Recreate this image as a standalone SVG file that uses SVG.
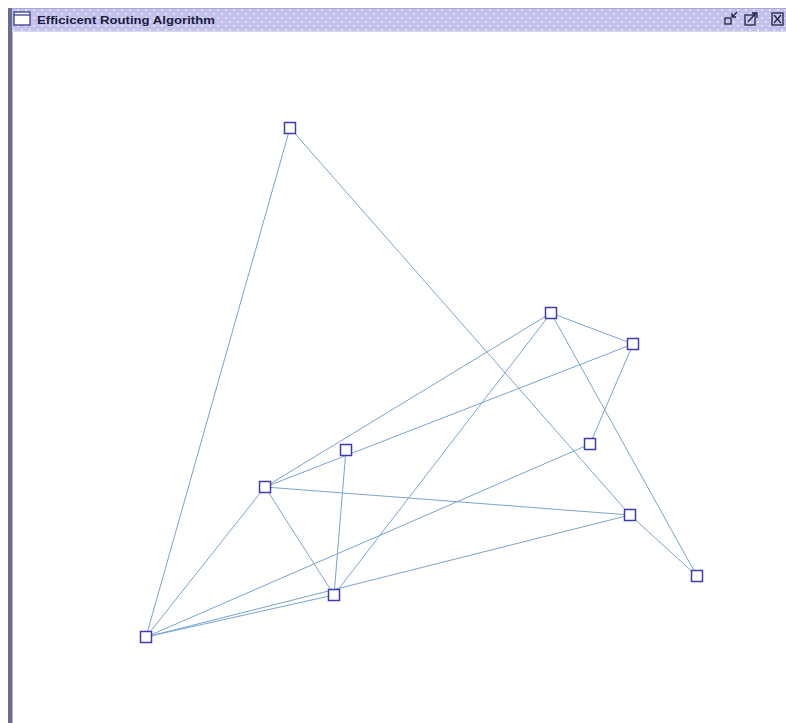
<svg xmlns="http://www.w3.org/2000/svg" width="786" height="723" viewBox="0 0 786 723">
<defs>
<pattern id="dots" width="8" height="8" patternUnits="userSpaceOnUse">
<rect width="8" height="8" fill="#c2c2ec"/>
<rect x="1" y="1" width="2" height="2" fill="#e0e0f6"/>
<rect x="5" y="5" width="2" height="2" fill="#e0e0f6"/>
<rect x="3" y="3" width="1" height="1" fill="#a8a8da"/>
</pattern>
<style>
.edge{stroke:#78a4cf;stroke-width:1;fill:none}
.node rect{fill:#ffffff;stroke:#3c3cb0;stroke-width:1.5}
.title{font-family:"Liberation Sans",Arial,sans-serif;font-size:11px;font-weight:bold;fill:#1a1a40}
.ico{fill:none;stroke:#222244;stroke-width:1.3}
</style>
</defs>
<rect width="786" height="723" fill="#ffffff"/>
<g id="frame">
<rect x="9" y="8" width="777" height="24" fill="url(#dots)"/>
<rect x="9" y="8" width="777" height="1" fill="#a8a8d8"/>
<rect x="9" y="31" width="777" height="1" fill="#d8d8f0"/>
<rect x="8" y="8" width="4" height="715" fill="#6c6c8c"/>
<rect x="12" y="32" width="1" height="691" fill="#b8b8cc"/>
<rect x="14" y="12" width="16" height="13" fill="#ffffff" stroke="#3a3a8a" stroke-width="1.3"/>
<line x1="14" y1="15" x2="30" y2="15" stroke="#3a3a8a" stroke-width="1.3"/>
<text class="title" x="37" y="24" textLength="178" lengthAdjust="spacingAndGlyphs">Efficicent Routing  Algorithm</text>
<rect x="725" y="18" width="6" height="6" class="ico"/>
<path d="M732 17 L737 12 M732 17 L732 13 M732 17 L736 17" class="ico"/>
<rect x="745" y="15" width="10" height="10" class="ico"/>
<path d="M748 22 L756 13 M752 13 L757 13 L757 18" class="ico"/>
<rect x="772" y="13" width="11" height="12" class="ico"/>
<path d="M774 15 L781 23 M781 15 L774 23" class="ico"/>
</g>
<g id="connectors">
<line class="edge" x1="290" y1="128" x2="146" y2="637"/>
<line class="edge" x1="290" y1="128" x2="630" y2="515"/>
<line class="edge" x1="551" y1="313" x2="633" y2="344"/>
<line class="edge" x1="551" y1="313" x2="265" y2="487"/>
<line class="edge" x1="551" y1="313" x2="334" y2="595"/>
<line class="edge" x1="551" y1="313" x2="697" y2="576"/>
<line class="edge" x1="633" y1="344" x2="265" y2="487"/>
<line class="edge" x1="633" y1="344" x2="590" y2="444"/>
<line class="edge" x1="590" y1="444" x2="146" y2="637"/>
<line class="edge" x1="346" y1="450" x2="334" y2="595"/>
<line class="edge" x1="265" y1="487" x2="630" y2="515"/>
<line class="edge" x1="265" y1="487" x2="334" y2="595"/>
<line class="edge" x1="265" y1="487" x2="146" y2="637"/>
<line class="edge" x1="334" y1="595" x2="146" y2="637"/>
<line class="edge" x1="630" y1="515" x2="146" y2="637"/>
<line class="edge" x1="630" y1="515" x2="697" y2="576"/>
</g>
<g id="nA" class="node"><rect x="284.5" y="122.5" width="11" height="11"/></g>
<g id="nB" class="node"><rect x="545.5" y="307.5" width="11" height="11"/></g>
<g id="nC" class="node"><rect x="627.5" y="338.5" width="11" height="11"/></g>
<g id="nD" class="node"><rect x="584.5" y="438.5" width="11" height="11"/></g>
<g id="nE" class="node"><rect x="340.5" y="444.5" width="11" height="11"/></g>
<g id="nF" class="node"><rect x="259.5" y="481.5" width="11" height="11"/></g>
<g id="nG" class="node"><rect x="624.5" y="509.5" width="11" height="11"/></g>
<g id="nH" class="node"><rect x="691.5" y="570.5" width="11" height="11"/></g>
<g id="nI" class="node"><rect x="328.5" y="589.5" width="11" height="11"/></g>
<g id="nJ" class="node"><rect x="140.5" y="631.5" width="11" height="11"/></g>
</svg>
